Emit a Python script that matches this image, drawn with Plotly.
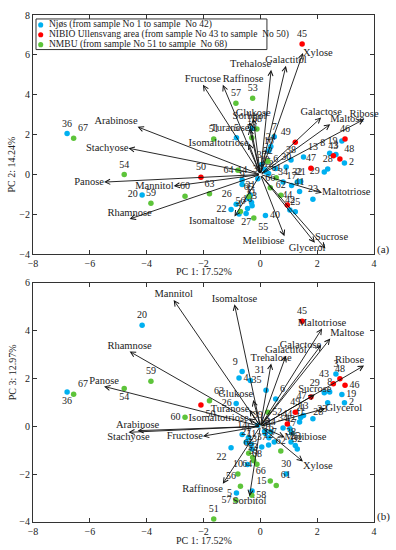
import plotly.graph_objects as go

# ---------------- data ----------------
sample_no = list(range(1, 69))
pc1 = [-0.42, 2.96, 2.66, -0.75, -0.84, 0.54, 0.49, 2.44, -0.64, -0.45,
       -0.31, 0.29, 1.52, -0.64, -0.29, 0.30, 1.10, 0.15, 2.87, -4.16,
       1.42, -1.03, 1.85, 0.37, 1.23, -0.85, -0.50, 2.37, 2.25, 0.91,
       -0.35, 1.30, -0.29, 0.80, 0.20, -6.80, 0.05, 1.08, -0.09, 0.18,
       1.38, 1.04, 2.57, 0.95, 1.47, 2.98, 1.78, 2.80, 1.23, -2.09,
       -1.64, 0.26, -0.27, -4.79, -0.23, -0.70, -0.86, -0.30, -3.85, -2.65,
       0.56, 0.72, -1.79, -0.79, -0.41, 0.35, -6.57, -0.12]
pc2 = [-1.20, 0.58, 1.00, -1.98, 1.84, 0.30, 1.90, 1.07, -0.50, -1.70,
       -1.40, 0.05, 0.88, -0.28, 2.31, 1.19, -0.55, 0.25, 1.68, -1.02,
       -0.35, -1.75, -1.24, 1.40, -1.87, -1.49, -1.95, 0.28, 0.13, 0.38,
       -1.02, -0.38, -1.57, -0.38, 0.13, 2.06, 0.50, 0.73, -0.21, -2.06,
       -0.85, -1.78, 0.94, -1.53, 6.55, 1.78, 0.31, 0.78, 1.62, -0.14,
       1.78, 0.66, 3.83, 0.00, -2.18, -1.85, 3.58, 1.85, -1.44, -1.09,
       -0.16, -1.04, -0.96, 0.21, -1.10, -0.66, 1.82, 2.28]
pc3 = [-0.48, 0.99, 2.19, 2.02, -2.79, 1.14, -0.65, 1.44, 2.29, -1.60,
       -0.75, -0.78, 0.45, -0.34, -2.70, -0.48, -0.27, -0.21, 1.33, 4.23,
       0.37, -0.89, 0.32, -0.23, -0.80, 0.96, -0.66, 0.99, 1.40, -1.99,
       1.92, -0.95, -0.95, -0.07, 1.51, 1.44, -0.86, -0.65, 0.05, -0.30,
       0.18, -0.10, 1.78, 0.10, 4.39, 1.72, 1.23, 1.99, 0.59, 0.89,
       -3.87, 0.59, -1.30, 1.58, -1.44, -2.50, -3.09, -2.88, 1.89, 0.38,
       -2.47, -1.03, 1.07, -1.99, -1.12, -2.29, 1.34, -1.58]

group_names = ["Njøs (from sample No 1 to sample  No 42)",
               "NIBIO Ullensvang area (from sample No 43 to sample  No 50)",
               "NMBU (from sample No 51 to sample  No 68)"]
group_first = [1, 43, 51]
group_last = [42, 50, 68]
group_colors = ["#00B0F0", "#FF0000", "#5DC43A"]

variables = ["Arabinose", "Stachyose", "Panose", "Mannitol", "Rhamnose", "Fructose",
             "Raffinose", "Trehalose", "Galactitol", "Xylose", "Galactose", "Maltose",
             "Ribose", "Glukose", "Sorbitol", "Turanose", "Isomaltotriose", "Maltotriose",
             "Sucrose", "Glycerol", "Melibiose", "Isomaltose"]
load_pc1 = [-4.32, -4.64, -5.50, -3.05, -4.60, -2.02, -1.32, 0.38, 0.90, 1.50, 2.14, 2.46,
            3.65, -0.25, -0.38, -0.38, -0.41, 2.17, 1.92, 2.29, 0.85, -0.91]
load_pc2 = [2.39, 1.32, -0.38, -0.58, -2.23, 4.50, 4.50, 5.25, 5.45, 6.10, 2.86, 2.52,
            2.77, 2.81, 2.64, 2.31, 1.57, -0.91, -3.42, -3.71, -3.09, -2.11]
load_pc3 = [-0.18, -0.25, 1.67, 5.28, 3.13, -0.41, -2.40, 2.63, 2.95, -1.47, 3.40, 3.67,
            2.54, 1.10, -2.92, 0.69, 0.34, 4.09, 1.33, 0.75, -0.45, 5.10]

# ---------------- styles ----------------
FONT = "Liberation Serif"
TXT = "#222222"

var_pos_a = {"Arabinose": "top left", "Stachyose": "middle left", "Panose": "middle left",
             "Mannitol": "middle left", "Rhamnose": "top center", "Fructose": "top center",
             "Raffinose": "top right", "Trehalose": "top left", "Galactitol": "top center",
             "Xylose": "middle right", "Galactose": "top center", "Maltose": "top right",
             "Ribose": "top center", "Glukose": "top center", "Sorbitol": "top center",
             "Turanose": "middle left", "Isomaltotriose": "middle left",
             "Maltotriose": "middle right", "Sucrose": "top right", "Glycerol": "middle left",
             "Melibiose": "bottom left", "Isomaltose": "bottom left"}
var_pos_b = {"Arabinose": "top center", "Stachyose": "bottom center", "Panose": "top center",
             "Mannitol": "top center", "Rhamnose": "top center", "Fructose": "middle left",
             "Raffinose": "bottom left", "Trehalose": "top center", "Galactitol": "top center",
             "Xylose": "bottom right", "Galactose": "middle left", "Maltose": "top right",
             "Ribose": "top left", "Glukose": "top left", "Sorbitol": "bottom center",
             "Turanose": "middle left", "Isomaltotriose": "middle left",
             "Maltotriose": "top center", "Sucrose": "top center", "Glycerol": "middle right",
             "Melibiose": "middle right", "Isomaltose": "top center"}

pt_pos_a = {20: "middle left", 67: "top right", 29: "middle left", 2: "middle right",
            22: "middle left", 64: "middle left", 19: "middle left", 40: "middle right",
            55: "bottom right", 27: "bottom center", 8: "top left", 26: "top left",
            49: "top left", 48: "top right", 13: "top right"}
pt_pos_b = {36: "bottom center", 67: "top right", 54: "bottom center", 60: "middle left",
            63: "top right", 50: "bottom right", 43: "top left", 46: "middle right",
            29: "top left", 19: "middle right", 2: "middle right", 28: "bottom left",
            47: "middle left", 23: "top right", 22: "bottom left", 66: "top left",
            61: "top right", 56: "top left", 57: "middle left", 5: "middle left",
            64: "top right", 10: "middle left", 15: "top right", 58: "middle right",
            9: "top left", 4: "middle right", 31: "top right", 35: "top left",
            6: "top right", 26: "middle left", 52: "middle right"}

fig = go.Figure()

panels = [
    dict(xa="x", ya="y", yvals=pc2, lvals=load_pc2, vpos=var_pos_a, ppos=pt_pos_a),
    dict(xa="x2", ya="y2", yvals=pc3, lvals=load_pc3, vpos=var_pos_b, ppos=pt_pos_b),
]

for p in panels:
    for g in range(3):
        idx = [i for i, s in enumerate(sample_no) if group_first[g] <= s <= group_last[g]]
        fig.add_trace(go.Scatter(
            x=[pc1[i] for i in idx], y=[p["yvals"][i] for i in idx],
            xaxis=p["xa"], yaxis=p["ya"],
            mode="markers+text",
            text=[str(sample_no[i]) for i in idx],
            textposition=[p["ppos"].get(sample_no[i], "top center") for i in idx],
            textfont=dict(family=FONT, size=10, color=TXT),
            marker=dict(size=5.5, color=group_colors[g]),
            name=group_names[g], showlegend=False, hoverinfo="skip", cliponaxis=False))
    # arrows
    for k, v in enumerate(variables):
        fig.add_annotation(x=load_pc1[k], y=p["lvals"][k], ax=0, ay=0,
                           xref=p["xa"], yref=p["ya"], axref=p["xa"], ayref=p["ya"],
                           text="", showarrow=True, arrowhead=5, arrowsize=1.1,
                           arrowwidth=0.9, arrowcolor="#111111", standoff=0)
    fig.add_trace(go.Scatter(
        x=load_pc1, y=p["lvals"], xaxis=p["xa"], yaxis=p["ya"], mode="text",
        text=variables, textposition=[p["vpos"][v] for v in variables],
        textfont=dict(family=FONT, size=10.5, color=TXT),
        showlegend=False, hoverinfo="skip", cliponaxis=False))

axis_common = dict(showline=True, linecolor="#333333", linewidth=1, mirror="ticks",
                   ticks="inside", ticklen=4, tickcolor="#333333", showgrid=False,
                   zeroline=False, dtick=2,
                   tickfont=dict(family=FONT, size=10, color=TXT))

fig.update_layout(
    width=396, height=550,
    margin=dict(l=33, r=22, t=9, b=28),
    paper_bgcolor="white", plot_bgcolor="white",
    showlegend=False,
    xaxis=dict(axis_common, range=[-8, 4], domain=[0, 1], anchor="y"),
    yaxis=dict(axis_common, range=[-4, 8], domain=[0.528, 1], anchor="x"),
    xaxis2=dict(axis_common, range=[-8, 4], domain=[0, 1], anchor="y2"),
    yaxis2=dict(axis_common, range=[-4, 6], domain=[0, 0.4717], anchor="x2"),
)

# axis titles and panel tags
ann_font = dict(family=FONT, size=10, color=TXT)
fig.add_annotation(text="PC 1: 17.52%", xref="paper", yref="paper", x=0.5, y=0.495,
                   showarrow=False, font=ann_font, yanchor="middle")
fig.add_annotation(text="PC 1: 17.52%", xref="paper", yref="paper", x=0.5, y=-0.037,
                   showarrow=False, font=ann_font, yanchor="middle")
fig.add_annotation(text="PC 2: 14.24%", xref="paper", yref="paper", x=-0.062, y=0.764,
                   showarrow=False, font=ann_font, textangle=-90, xanchor="center")
fig.add_annotation(text="PC 3: 12.97%", xref="paper", yref="paper", x=-0.062, y=0.236,
                   showarrow=False, font=ann_font, textangle=-90, xanchor="center")
fig.add_annotation(text="(a)", xref="paper", yref="paper", x=1.003, y=0.538,
                   showarrow=False, font=dict(family=FONT, size=11, color=TXT),
                   xanchor="left", yanchor="middle")
fig.add_annotation(text="(b)", xref="paper", yref="paper", x=1.003, y=0.010,
                   showarrow=False, font=dict(family=FONT, size=11, color=TXT),
                   xanchor="left", yanchor="middle")

# manual legend box (top panel)
fig.add_shape(type="rect", xref="paper", yref="paper", x0=0.0088, x1=0.686,
              y0=0.9318, y1=0.9922, line=dict(color="#333333", width=1),
              fillcolor="white", layer="above")
row_y = [0.9805, 0.961, 0.9415]
for g in range(3):
    fig.add_shape(type="circle", xref="paper", yref="paper",
                  x0=0.0226 - 0.0075, x1=0.0226 + 0.0075,
                  y0=row_y[g] - 0.005, y1=row_y[g] + 0.005,
                  fillcolor=group_colors[g], line=dict(width=0), layer="above")
    fig.add_annotation(text=group_names[g], xref="paper", yref="paper", x=0.041, y=row_y[g],
                       xanchor="left", yanchor="middle", showarrow=False,
                       font=dict(family=FONT, size=9.5, color=TXT))

fig.write_html("out.html", config={"displayModeBar": False},
               post_script="document.body.style.margin='0';document.body.style.padding='0';")
